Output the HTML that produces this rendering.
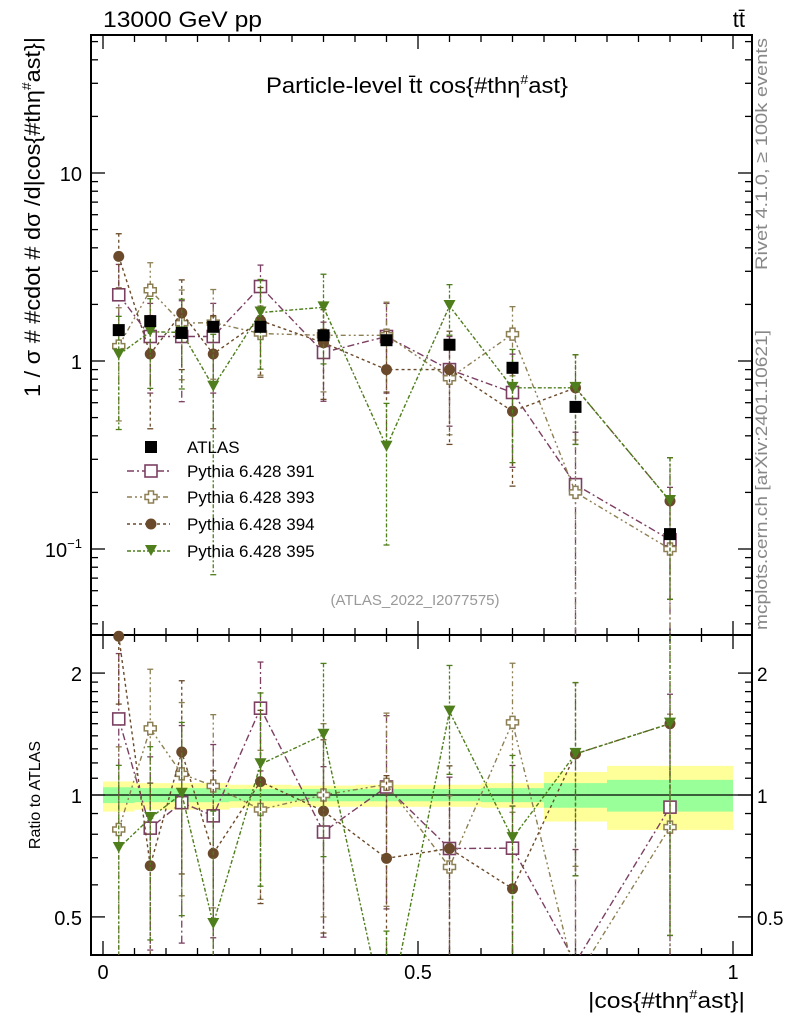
<!DOCTYPE html>
<html><head><meta charset="utf-8"><style>
body{margin:0;background:#fff}
svg{display:block;font-family:"Liberation Sans","DejaVu Sans",sans-serif}
</style></head><body>
<svg id="chart" width="786" height="1024" viewBox="0 0 786 1024">
<g id="bands"></g>
<g id="axes"></g>
<g id="series"></g>
<g id="labels">
<text x="103" y="27" font-size="22" textLength="159" lengthAdjust="spacingAndGlyphs">13000 GeV pp</text>
<text x="745" y="27" font-size="22" text-anchor="end">tt̄</text>
<text x="266" y="93" font-size="22" textLength="302" lengthAdjust="spacingAndGlyphs">Particle-level t̄t cos{#thη<tspan dy="-9" font-size="13">#</tspan><tspan dy="9">ast}</tspan></text>
<text transform="translate(40,397) rotate(-90)" font-size="22" textLength="360" lengthAdjust="spacingAndGlyphs">1 / σ # #cdot # dσ /d|cos{#thη<tspan dy="-9" font-size="13">#</tspan><tspan dy="9">ast}|</tspan></text>
<text transform="translate(40,795) rotate(-90)" font-size="16" text-anchor="middle">Ratio to ATLAS</text>
<text x="588" y="1008" font-size="22" textLength="157" lengthAdjust="spacingAndGlyphs">|cos{#thη<tspan dy="-9" font-size="13">#</tspan><tspan dy="9">ast}|</tspan></text>
<text transform="translate(767,270) rotate(-90)" font-size="17" fill="#888" textLength="232" lengthAdjust="spacingAndGlyphs">Rivet 4.1.0, ≥ 100k events</text>
<text transform="translate(767,630) rotate(-90)" font-size="17" fill="#888" textLength="300" lengthAdjust="spacingAndGlyphs">mcplots.cern.ch [arXiv:2401.10621]</text>
<text x="415" y="605" font-size="15" fill="#999" text-anchor="middle">(ATLAS_2022_I2077575)</text>
</g>
<g id="legend"></g>
</svg>
<script>
const edges=[0,0.05,0.1,0.15,0.2,0.3,0.4,0.5,0.6,0.7,0.8,1.0];
const centers=[0.025,0.075,0.125,0.175,0.25,0.35,0.45,0.55,0.65,0.75,0.9];
const atlas=[1.46,1.63,1.41,1.52,1.52,1.37,1.29,1.22,0.92,0.57,0.12];
const py391=[2.25,1.35,1.35,1.35,2.49,1.11,1.35,0.90,0.68,0.22,0.112];
const py393=[1.20,2.38,1.59,1.60,1.40,1.37,1.37,0.81,1.39,0.20,0.10];
const py394=[3.6,1.09,1.80,1.09,1.64,1.25,0.90,0.90,0.54,0.72,0.18];
const py395=[1.08,1.43,1.42,0.73,1.81,1.93,0.35,1.96,0.72,0.72,0.18];
const err391=[0.45,0.5,0.55,0.5,0.3,0.45,0.5,0.5,0.6,0.9,0.9];
const err393=[0.6,0.4,0.5,0.5,0.4,0.5,0.5,0.5,0.4,0.9,0.9];
const err394=[0.32,0.6,0.5,0.6,0.5,0.5,0.6,0.6,0.6,0.5,0.7];
const err395=[0.6,0.5,0.5,0.9,0.5,0.5,0.7,0.3,0.6,0.5,0.7];
const bandYellowUp=[1.08,1.07,1.07,1.07,1.06,1.055,1.06,1.06,1.07,1.14,1.18];
const bandYellowDn=[0.91,0.92,0.92,0.92,0.93,0.935,0.935,0.935,0.93,0.86,0.82];
const bandGreenUp=[1.045,1.04,1.04,1.04,1.035,1.035,1.035,1.035,1.04,1.07,1.09];
const bandGreenDn=[0.955,0.96,0.96,0.96,0.965,0.965,0.965,0.965,0.96,0.93,0.91];
const xTicks=[0,0.5,1];
const xTickLabels=["0","0.5","1"];
const yMainLabels=[{v:10,t:"10"},{v:1,t:"1"}];
const yRatioTicks=[0.5,1,2];
const yRatioLabels=["0.5","1","2"];

const NS="http://www.w3.org/2000/svg";
const L=91,R=752,T=35,M=635,B=955;
const X=v=>103+v*630;
const Y=v=>361-Math.log10(v)*188;
const YR=v=>795-Math.log10(v)*405;
function mk(p,tag,a){const e=document.createElementNS(NS,tag);for(const k in a)e.setAttribute(k,a[k]);p.appendChild(e);return e;}
const bands=document.getElementById('bands'),axes=document.getElementById('axes'),ser=document.getElementById('series'),leg=document.getElementById('legend');

for(let i=0;i<centers.length;i++){
  const y=mk(bands,'rect',{x:X(edges[i]),y:YR(bandYellowUp[i]),width:X(edges[i+1])-X(edges[i]),height:YR(bandYellowDn[i])-YR(bandYellowUp[i]),fill:'#ffff99'});
  
  
  const g=mk(bands,'rect',{x:X(edges[i]),y:YR(bandGreenUp[i]),width:X(edges[i+1])-X(edges[i]),height:YR(bandGreenDn[i])-YR(bandGreenUp[i]),fill:'#99ff99'});
  
  
}
mk(axes,'line',{x1:L,x2:R,y1:YR(1),y2:YR(1),stroke:'#000','stroke-width':1.2});
for(const [t,b] of [[T,M],[M,B]]){const f=mk(axes,'rect',{x:L,y:t,width:R-L,height:b-t,fill:'none',stroke:'#000','stroke-width':2});

}
for(let v=0;v<=1.0001;v+=0.05){const big=Math.abs(v*2-Math.round(v*2))<1e-6;const len=big?14:7;
 for(const [t,b] of [[T,M],[M,B]]){mk(axes,'line',{x1:X(v),x2:X(v),y1:b,y2:b-len,stroke:'#000','stroke-width':1.3});mk(axes,'line',{x1:X(v),x2:X(v),y1:t,y2:t+len,stroke:'#000','stroke-width':1.3});}}
xTicks.forEach((v,i)=>{const t=mk(axes,'text',{x:X(v),y:979,'font-size':20,'text-anchor':'middle'});t.textContent=xTickLabels[i];

});
for(let d=-2;d<=1;d++)for(let m=1;m<10;m++){const v=m*Math.pow(10,d);const y=Y(v);if(y<T||y>M)continue;const len=m==1?14:7;
 mk(axes,'line',{x1:L,x2:L+len,y1:y,y2:y,stroke:'#000','stroke-width':1.3});mk(axes,'line',{x1:R,x2:R-len,y1:y,y2:y,stroke:'#000','stroke-width':1.3});}
yMainLabels.forEach(o=>{const t=mk(axes,'text',{x:82,y:Y(o.v)+8,'font-size':20,'text-anchor':'end'});t.textContent=o.t;

});
{const t=mk(axes,'text',{x:82,y:Y(0.1)+8,'font-size':20,'text-anchor':'end'});t.innerHTML='10<tspan dy="-9" font-size="13">−1</tspan>';

}
for(let v=0.4;v<=2.5;v+=(v<2?0.1:0.5)){const y=YR(v);if(y<M||y>B)continue;const big=yRatioTicks.some(t=>Math.abs(t-v)<1e-6);const len=big?14:7;
 mk(axes,'line',{x1:L,x2:L+len,y1:y,y2:y,stroke:'#000','stroke-width':1.3});mk(axes,'line',{x1:R,x2:R-len,y1:y,y2:y,stroke:'#000','stroke-width':1.3});}
yRatioTicks.forEach((v,i)=>{for(const [x,a,fs] of [[82,'end',20],[757,'start',19]]){const t=mk(axes,'text',{x:x,y:YR(v)+8,'font-size':fs,'text-anchor':a});t.textContent=yRatioLabels[i];

}});

const defs=[
 {name:'pythia-391',label:'Pythia 6.428 391',vals:py391,err:err391,col:'#7b3f62',dash:'7,3,2,3',mark:'sq'},
 {name:'pythia-393',label:'Pythia 6.428 393',vals:py393,err:err393,col:'#8d7f54',dash:'5,3,2,3,2,3',mark:'cross'},
 {name:'pythia-394',label:'Pythia 6.428 394',vals:py394,err:err394,col:'#6a4a2a',dash:'3,3',mark:'circ'},
 {name:'pythia-395',label:'Pythia 6.428 395',vals:py395,err:err395,col:'#4f7e1c',dash:'4,2,2,2',mark:'tri'}];
function marker(p,type,x,y,col){
 let e;
 if(type=='sq')e=mk(p,'rect',{x:x-6,y:y-6,width:12,height:12,fill:'#fff',stroke:col,'stroke-width':1.6});
 else if(type=='cross')e=mk(p,'path',{d:`M${x-2.5},${y-6}h5v3.5h3.5v5h-3.5v3.5h-5v-3.5h-3.5v-5h3.5z`,fill:'#fff',stroke:col,'stroke-width':1.5});
 else if(type=='circ')e=mk(p,'circle',{cx:x,cy:y,r:5.5,fill:col});
 else if(type=='tri')e=mk(p,'path',{d:`M${x-6},${y-6}h12l-6,11z`,fill:col});
 else e=mk(p,'rect',{x:x-6,y:y-6,width:12,height:12,fill:'#000'});
 return e;}
const clip=(y,a,b)=>Math.max(a,Math.min(b,y));
defs.forEach(s=>{
 const g=mk(ser,'g',{});
 
 
 for(const panel of ['main','ratio']){
  const f=panel=='main'?(i=>Y(s.vals[i])):(i=>YR(s.vals[i]/atlas[i]));
  const top=panel=='main'?T:M,bot=panel=='main'?M:B;
  const cp=panel=='main'?'cm':'cr';
  const pts=centers.map((c,i)=>X(c)+','+f(i)).join(' ');
  mk(g,'polyline',{points:pts,fill:'none',stroke:s.col,'stroke-width':1.4,'stroke-dasharray':s.dash,'clip-path':`url(#${cp})`});
  centers.forEach((c,i)=>{
   const v=s.vals[i],e=s.err[i]*v;
   const sc=panel=='main'?1:1/atlas[i];const FY=panel=='main'?Y:YR;
   const y1=clip(FY((v+e)*sc),top,bot),y2=clip(FY(Math.max(v-e,1e-4)*sc),top,bot);
   mk(g,'line',{x1:X(c),x2:X(c),y1:y1,y2:y2,stroke:s.col,'stroke-width':1.3,'stroke-dasharray':s.dash});
   if(y1>top)mk(g,'line',{x1:X(c)-3,x2:X(c)+3,y1:y1,y2:y1,stroke:s.col,'stroke-width':1.3});
   if(y2<bot)mk(g,'line',{x1:X(c)-3,x2:X(c)+3,y1:y2,y2:y2,stroke:s.col,'stroke-width':1.3});
   const y=f(i);
   if(y>=top-3&&y<=bot+3){const m=marker(g,s.mark,X(c),y,s.col);
    
    }
  });
 }
});
const cm=mk(document.getElementById('chart'),'clipPath',{id:'cm'});mk(cm,'rect',{x:L,y:T,width:R-L,height:M-T});
const cr=mk(document.getElementById('chart'),'clipPath',{id:'cr'});mk(cr,'rect',{x:L,y:M,width:R-L,height:B-M});
centers.forEach((c,i)=>{const m=marker(ser,'atlas',X(c),Y(atlas[i]),'#000');

});
const lr=[{label:'ATLAS',mark:'atlas',col:'#000'}].concat(defs);
const ly=[447,471,497,524,551];
lr.forEach((s,i)=>{const g=mk(leg,'g',{});
 
 
 if(s.dash)mk(g,'line',{x1:127,x2:170,y1:ly[i],y2:ly[i],stroke:s.col,'stroke-width':1.4,'stroke-dasharray':s.dash});
 marker(g,s.mark,151,ly[i],s.col);
 const t=mk(g,'text',{x:187,y:ly[i]+6,'font-size':17});t.textContent=s.label;});
</script>
</body></html>
